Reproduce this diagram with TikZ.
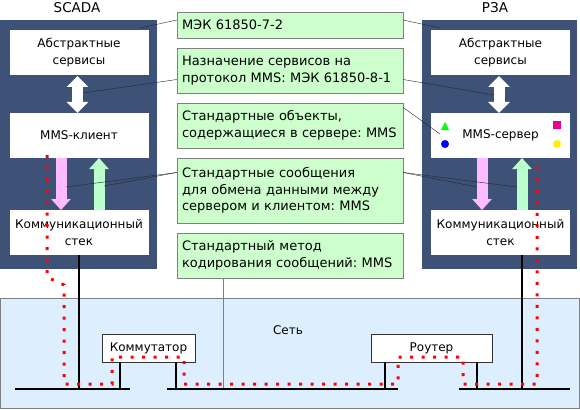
\documentclass[tikz,border=0pt]{standalone}
\usepackage{fontspec}
\setmainfont{DejaVu Sans}
\usetikzlibrary{arrows.meta}
\definecolor{blockblue}{HTML}{3E5278}
\definecolor{notegreen}{HTML}{CCFFCC}
\definecolor{netblue}{HTML}{DDEEFF}
\definecolor{downpink}{HTML}{FFBBFF}
\definecolor{upgreen}{HTML}{BBFFCC}
\frenchspacing

\begin{document}
\begin{tikzpicture}[x=1pt, y=-1pt, font=\fontsize{12}{16.5}\selectfont]
    \tikzset{
      panel/.style={fill=blockblue, minimum width=#1, minimum height=249, inner sep=0},
      title/.style={font=\fontsize{13.5}{16}\selectfont},
      layer/.style={fill=white, minimum width=139, minimum height=45, align=center, inner sep=0},
      note/.style={fill=notegreen, draw=gray, text width=216pt, minimum height=#1, align=left,
        inner xsep=5pt, inner ysep=0, font=\fontsize{13}{16.5}\selectfont},
      device/.style={fill=white, draw=black!80, minimum width=#1, minimum height=28, inner sep=0},
      pointer/.style={draw=black!85, thin},
      service/.style={draw=white, line width=11pt, {Triangle[width=21pt,length=11pt]}-{Triangle[width=21pt,length=11pt]}},
      flow/.style={draw=#1, line width=11pt, -{Triangle[width=19pt,length=11pt]}},
      bus/.style={line width=1.2pt},
      route/.style={red, line width=3pt, dash pattern=on 3pt off 8.5pt}
    }
    \useasboundingbox (0,0) rectangle (580,409);

    % network
    \draw (289.5,353) node (net) [fill=netblue, draw=gray, minimum width=579, minimum height=110, inner sep=0] {};
    \draw (288,330) node (netlabel) {Сеть};

    % SCADA and РЗА
    \draw (78.5,144.5) node (scada) [panel=157] {};
    \draw (499.5,144.5) node (rza) [panel=155] {};
    \draw (77,8) node (scadatitle) [title] {SCADA};
    \draw (495,8) node (rzatitle) [title] {РЗА};
    \draw (79,52.5) node (sabs) [layer] {Абстрактные\\сервисы};
    \draw (79,135.5) node (sclient) [layer] {MMS-клиент};
    \draw (79,232.5) node (sstack) [layer] {Коммуникационный\\стек};
    \draw (500.5,52.5) node (rabs) [layer] {Абстрактные\\сервисы};
    \draw (500.5,135.5) node (rserver) [layer] {MMS-сервер};
    \draw (500.5,232.5) node (rstack) [layer] {Коммуникационный\\стек};
    \fill[green] (441,130) -- (449,130) -- (445,122) -- cycle;
    \fill[blue] (445,144) circle (4);
    \fill[magenta] (553,121) rectangle (561,129);
    \fill[yellow] (557,144) circle (4);

    % standards
    \draw (290,25) node (n1) [note=26] {МЭК 61850-7-2};
    \draw (290,70.5) node (n2) [note=45] {Назначение сервисов на\\протокол MMS: МЭК 61850-8-1};
    \draw (290,125.5) node (n3) [note=45] {Стандартные объекты,\\содержащиеся в сервере: MMS};
    \draw (290,190.5) node (n4) [note=65] {Стандартные сообщения\\для обмена данными между\\сервером и клиентом: MMS};
    \draw (290,255.5) node (n5) [note=45] {Стандартный метод\\кодирования сообщений: MMS};

    \draw[service] (77.5,76) -- (77.5,113);
    \draw[service] (499,76) -- (499,113);
    \draw[flow=downpink] (61,158) -- (61,210);
    \draw[flow=upgreen] (99,210) -- (99,158);
    \draw[flow=downpink] (482,158) -- (482,210);
    \draw[flow=upgreen] (522,210) -- (522,158);

    \coordinate (p1l) at (140,28);
    \coordinate (p1r) at (440,28);
    \coordinate (p2l) at (83,93);
    \coordinate (p2r) at (494,95);
    \coordinate (p3r) at (440,134);
    \coordinate (p4a) at (66,187);
    \coordinate (p4b) at (104,186);
    \coordinate (p4c) at (477,187);
    \coordinate (p4d) at (517,187);
    \draw[pointer] ([yshift=5]n1.west) -- (p1l);
    \draw[pointer] ([yshift=5]n1.east) -- (p1r);
    \draw[pointer] ([yshift=-9]n2.west) -- (p2l);
    \draw[pointer] ([yshift=-9]n2.east) -- (p2r);
    \draw[pointer] ([yshift=18]n3.east) -- (p3r);
    \foreach \to in {p4a, p4b}
      \draw[pointer] ([yshift=18]n4.west) -- (\to);
    \foreach \to in {p4c, p4d}
      \draw[pointer] ([yshift=18]n4.east) -- (\to);

    % devices and buses
    \draw (148.5,348) node (switch) [device=93] {Коммутатор};
    \draw (431.5,348) node (router) [device=121] {Роутер};
    \coordinate (busA1) at (15,389);
    \coordinate (busA2) at (130,389);
    \coordinate (busB1) at (167,389);
    \coordinate (busB2) at (398,389);
    \coordinate (busC1) at (459,389);
    \coordinate (busC2) at (570,389);
    \coordinate (tap) at (223,389);
    \coordinate (sleg) at (79,389);
    \coordinate (rleg) at (522,389);
    \coordinate (legA) at (120,389);
    \coordinate (legB) at (176,389);
    \coordinate (legC) at (385,389);
    \coordinate (legD) at (477,389);
    \draw[gray] (n5.south -| tap) -- (tap);
    \foreach \from/\to in {busA1/busA2, busB1/busB2, busC1/busC2}
      \draw[bus] (\from) -- (\to);
    \draw[bus] (sstack.south) -- (sleg);
    \draw[bus] (rstack.south -| rleg) -- (rleg);
    \draw[bus] (switch.south -| legA) -- (legA);
    \draw[bus] (switch.south -| legB) -- (legB);
    \draw[bus] (router.south -| legC) -- (legC);
    \draw[bus] (router.south -| legD) -- (legD);

    % message path
    \draw[route] (47,155) -- (47,277) -- (64,285) -- (64,384) -- (112,384) -- (112,357)
      -- (184,357) -- (184,384) -- (398,384) -- (398,357) -- (463,357) -- (463,384)
      -- (537,384) -- (537,160);

  \end{tikzpicture}
\end{document}
